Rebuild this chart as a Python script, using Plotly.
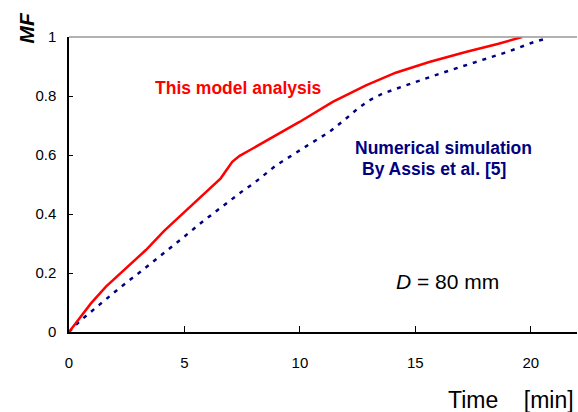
import plotly.graph_objects as go

# Data
model_t = [0, 0.95, 1.6, 2.46, 3.33, 4.12, 5.05, 5.92, 6.57, 7.07, 7.39, 7.82, 8.83, 9.98, 11.42, 12.86, 14.15, 15.6, 17.18, 18.6, 19.62]
model_mf = [0, 0.097, 0.154, 0.216, 0.278, 0.343, 0.41, 0.474, 0.521, 0.577, 0.597, 0.616, 0.661, 0.712, 0.78, 0.836, 0.879, 0.915, 0.949, 0.977, 1.0]

sim_t = [0, 0.44, 1.31, 2.17, 3.04, 3.97, 4.91, 5.78, 6.71, 7.57, 8.0, 8.97, 10.34, 11.27, 11.99, 12.5, 13.0, 13.58, 14.59, 16.03, 17.61, 19.05, 20.2, 20.7]
sim_mf = [0, 0.035, 0.092, 0.148, 0.201, 0.258, 0.318, 0.374, 0.43, 0.481, 0.504, 0.565, 0.633, 0.678, 0.723, 0.757, 0.785, 0.808, 0.836, 0.875, 0.915, 0.951, 0.985, 0.995]

x_ticks = [0, 5, 10, 15, 20]
y_ticks = [0, 0.2, 0.4, 0.6, 0.8, 1]
y_tick_labels = ["0", "0.2", "0.4", "0.6", "0.8", "1"]

FONT = "Liberation Sans, Arial, sans-serif"

fig = go.Figure()
fig.add_trace(go.Scatter(x=sim_t, y=sim_mf, mode="lines",
                         line=dict(color="#000080", width=2.5, dash="4px,6px"),
                         showlegend=False))
fig.add_trace(go.Scatter(x=model_t, y=model_mf, mode="lines",
                         line=dict(color="#ff0000", width=2.5),
                         showlegend=False))

fig.update_layout(
    width=578, height=412,
    margin=dict(l=69, r=1, t=37, b=80, autoexpand=False),
    paper_bgcolor="white", plot_bgcolor="white",
    font=dict(family=FONT, size=14, color="black"),
    xaxis=dict(range=[0, 22], tickvals=x_ticks, ticks="inside", ticklen=6,
               tickcolor="black", showline=True, linecolor="black", linewidth=1.5,
               showgrid=False, zeroline=False, ticklabelstandoff=16,
               tickfont=dict(size=15, family=FONT), automargin=False),
    yaxis=dict(range=[0, 1], tickvals=y_ticks, ticktext=y_tick_labels,
               ticks="inside", ticklen=4, tickcolor="black", showline=True,
               linecolor="black", linewidth=1.5, showgrid=False, zeroline=False,
               ticklabelstandoff=8, tickfont=dict(size=15, family=FONT), automargin=False),
    shapes=[dict(type="line", xref="paper", yref="paper", x0=0, x1=1, y0=1, y1=1,
                 line=dict(color="#999999", width=1.5))],
    annotations=[
        dict(text="<b><i>MF</i></b>", xref="paper", yref="paper", x=-0.084, y=1.03,
             textangle=-90, showarrow=False, font=dict(size=21, family=FONT),
             xanchor="center", yanchor="middle"),
        dict(text="Time    [min]", xref="paper", yref="paper", x=0.998, y=-0.23,
             showarrow=False, xanchor="right", yanchor="middle",
             font=dict(size=23, family=FONT)),
        dict(text="<b>This model analysis</b>", xref="x", yref="y", x=7.36, y=0.827,
             showarrow=False, xanchor="center", yanchor="middle",
             font=dict(size=17.5, color="#ff0000", family=FONT)),
        dict(text="<b>Numerical simulation</b>", xref="x", yref="y", x=16.2, y=0.624,
             showarrow=False, xanchor="center", yanchor="middle",
             font=dict(size=17.5, color="#000080", family=FONT)),
        dict(text="<b>By Assis et al. [5]</b>", xref="x", yref="y", x=15.8, y=0.553,
             showarrow=False, xanchor="center", yanchor="middle",
             font=dict(size=17.5, color="#000080", family=FONT)),
        dict(text="<i>D</i> = 80 mm", xref="x", yref="y", x=16.4, y=0.17,
             showarrow=False, xanchor="center", yanchor="middle",
             font=dict(size=21, color="black", family=FONT)),
    ],
)

fig.write_html("out.html", config={"displayModeBar": False},
               post_script="document.body.style.margin='0px';")
